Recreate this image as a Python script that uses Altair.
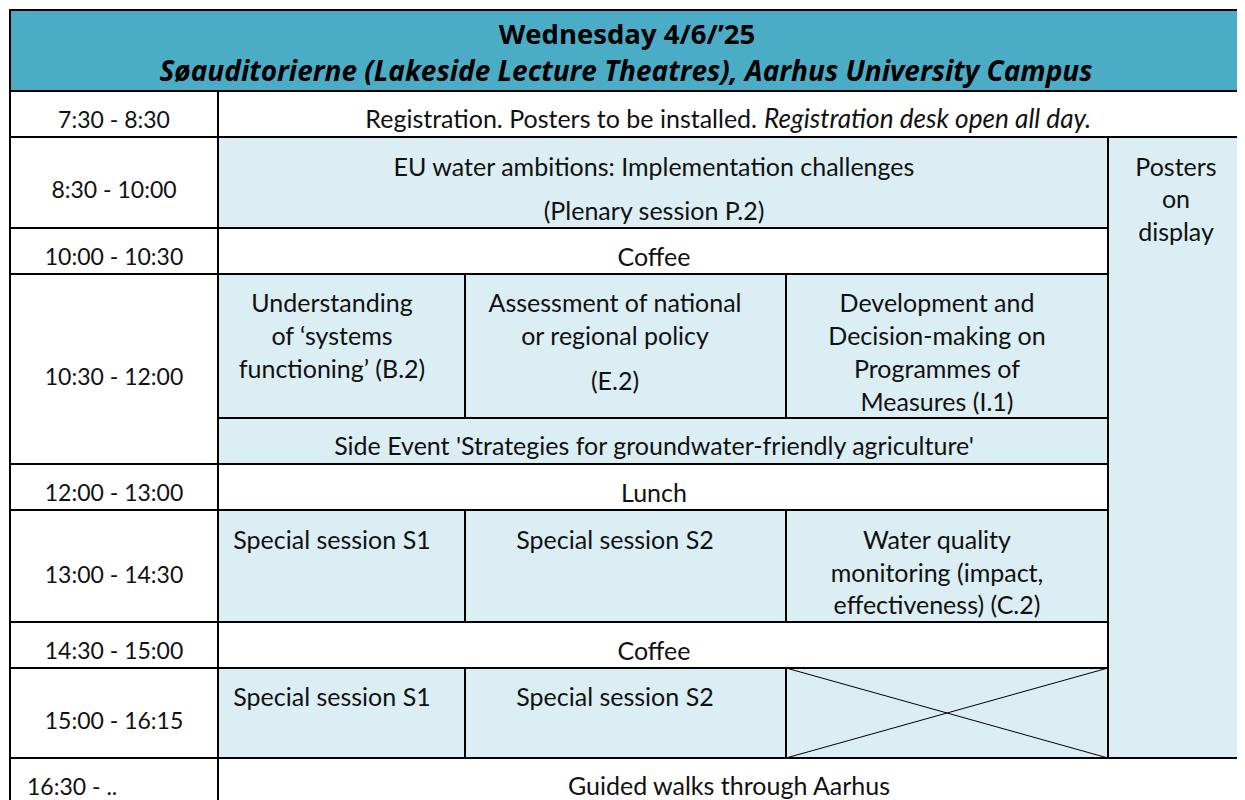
import altair as alt
import pandas as pd

# ---------------- content ----------------
title_day = "Wednesday 4/6/\u201925"
title_place = "S\u00f8auditorierne (Lakeside Lecture Theatres), Aarhus University Campus"

times = ["7:30 - 8:30", "8:30 - 10:00", "10:00 - 10:30", "10:30 - 12:00",
         "12:00 - 13:00", "13:00 - 14:30", "14:30 - 15:00", "15:00 - 16:15"]
last_time = "16:30 - .."

reg_plain = "Registration. Posters to be installed."
reg_italic = "Registration desk open all day."

eu_lines = ["EU water ambitions: Implementation challenges", "(Plenary session P.2)"]
poster_lines = ["Posters", "on", "display"]
coffee = "Coffee"
b2_lines = ["Understanding", "of \u2018systems", "functioning\u2019 (B.2)"]
e2_lines = ["Assessment of national", "or regional policy", "(E.2)"]
i1_lines = ["Development and", "Decision-making on", "Programmes of", "Measures  (I.1)"]
side_event = "Side Event 'Strategies for groundwater-friendly agriculture'"
lunch = "Lunch"
s1 = "Special session S1"
s2 = "Special session S2"
c2_lines = ["Water quality", "monitoring (impact,", "effectiveness) (C.2)"]
guided = "Guided walks through Aarhus"

# ---------------- layout (grid of the table) ----------------
XE = [10, 218, 465, 786, 1108, 1252]          # column edges
YE = [10, 91, 137, 228, 274, 418, 464, 510, 622, 668, 758, 812]  # row edges
HEAD = "#4BACC6"
LIGHT = "#DAEEF3"
WHITE = "#FFFFFF"

# cells: (col0, col1, row0, row1, fill)
cells = [
    (0, 5, 0, 1, HEAD),
    (0, 1, 1, 2, WHITE), (0, 1, 2, 3, WHITE), (0, 1, 3, 4, WHITE),
    (0, 1, 4, 6, WHITE), (0, 1, 6, 7, WHITE), (0, 1, 7, 8, WHITE),
    (0, 1, 8, 9, WHITE), (0, 1, 9, 10, WHITE), (0, 1, 10, 11, WHITE),
    (1, 5, 1, 2, WHITE),
    (1, 4, 2, 3, LIGHT),
    (4, 5, 2, 10, LIGHT),
    (1, 4, 3, 4, WHITE),
    (1, 2, 4, 5, LIGHT), (2, 3, 4, 5, LIGHT), (3, 4, 4, 5, LIGHT),
    (1, 4, 5, 6, LIGHT),
    (1, 4, 6, 7, WHITE),
    (1, 2, 7, 8, LIGHT), (2, 3, 7, 8, LIGHT), (3, 4, 7, 8, LIGHT),
    (1, 4, 8, 9, WHITE),
    (1, 2, 9, 10, LIGHT), (2, 3, 9, 10, LIGHT), (3, 4, 9, 10, LIGHT),
    (1, 5, 10, 11, WHITE),
]
rects = pd.DataFrame([
    {"x": XE[a], "x2": XE[b], "y": YE[c], "y2": YE[d], "fill": f}
    for a, b, c, d, f in cells
])

cross = pd.DataFrame([
    {"x": XE[3], "y": YE[9], "x2": XE[4], "y2": YE[10]},
    {"x": XE[3], "y": YE[10], "x2": XE[4], "y2": YE[9]},
])

# text anchors: centre x and baseline y of each line
time_x = 114
time_y = [128, 198, 265, 385, 501, 583, 659, 729]
mid_x = 654
col1_x, col2_x, col3_x, post_x = 332, 615, 937, 1176

body = []
for t, y in zip(eu_lines, [176, 220]):
    body.append((t, mid_x, y))
for t, y in zip(poster_lines, [176, 208, 241]):
    body.append((t, post_x, y))
body.append((coffee, mid_x, 266))
for t, y in zip(b2_lines, [312, 345, 378]):
    body.append((t, col1_x, y))
for t, y in zip(e2_lines, [312, 345, 390]):
    body.append((t, col2_x, y))
for t, y in zip(i1_lines, [312, 345, 378, 411]):
    body.append((t, col3_x, y))
body.append((side_event, mid_x, 455))
body.append((lunch, mid_x, 502))
body.append((s1, col1_x, 549))
body.append((s2, col2_x, 549))
for t, y in zip(c2_lines, [549, 582, 614]):
    body.append((t, col3_x, y))
body.append((coffee, mid_x, 660))
body.append((s1, col1_x, 706))
body.append((s2, col2_x, 706))
body.append((guided, 729, 795))
body_df = pd.DataFrame(body, columns=["text", "x", "y"])
time_df = pd.DataFrame({"text": times, "x": time_x, "y": time_y})

FONT = "Lato"
FS = 25
FS_T = 23
INK = "#111111"

xs = alt.Scale(domain=[8, 1237], range=[0, 1229])
ys = alt.Scale(domain=[8, 800], range=[0, 792])
X = lambda f: alt.X(f, type="quantitative", scale=xs, axis=None)
Y = lambda f: alt.Y(f, type="quantitative", scale=ys, axis=None)

cell_layer = alt.Chart(rects).mark_rect(stroke="black", strokeWidth=2, clip=True).encode(
    x=X("x"), x2="x2", y=Y("y"), y2="y2",
    fill=alt.Fill("fill:N", scale=None),
)

cross_layer = alt.Chart(cross).mark_rule(color="black", strokeWidth=1).encode(
    x=X("x"), x2="x2", y=Y("y"), y2="y2",
)

text_layer = alt.Chart(body_df).mark_text(
    font=FONT, fontSize=FS, align="center", baseline="alphabetic", color=INK, clip=True
).encode(x=X("x"), y=Y("y"), text="text:N")

time_layer = alt.Chart(time_df).mark_text(
    font=FONT, fontSize=FS_T, align="center", baseline="alphabetic", color=INK
).encode(x=X("x"), y=Y("y"), text="text:N")

reg_a = alt.Chart(pd.DataFrame([{"text": reg_plain, "x": 757, "y": 128}])).mark_text(
    font=FONT, fontSize=FS, align="right", baseline="alphabetic", color=INK
).encode(x=X("x"), y=Y("y"), text="text:N")

reg_b = alt.Chart(pd.DataFrame([{"text": reg_italic, "x": 764, "y": 128}])).mark_text(
    font=FONT, fontSize=26.2, fontStyle="italic", align="left", baseline="alphabetic", color=INK
).encode(x=X("x"), y=Y("y"), text="text:N")

last_t = alt.Chart(pd.DataFrame([{"text": last_time, "x": 27, "y": 795}])).mark_text(
    font=FONT, fontSize=FS_T, align="left", baseline="alphabetic", color=INK, clip=True
).encode(x=X("x"), y=Y("y"), text="text:N")

head1 = alt.Chart(pd.DataFrame([{"text": title_day, "x": 627, "y": 44}])).mark_text(
    font="Open Sans", fontSize=27.5, fontWeight="bold", align="center", baseline="alphabetic", color="#000000"
).encode(x=X("x"), y=Y("y"), text="text:N")

head2 = alt.Chart(pd.DataFrame([{"text": title_place, "x": 626, "y": 81}])).mark_text(
    font="Open Sans", fontSize=28, fontWeight="bold", fontStyle="italic", align="center",
    baseline="alphabetic", color="#000000"
).encode(x=X("x"), y=Y("y"), text="text:N")

chart = alt.layer(
    cell_layer, cross_layer, text_layer, time_layer, reg_a, reg_b, last_t, head1, head2
).properties(width=1229, height=792, padding=0).configure_view(stroke=None)

chart.save("out.html", embed_options={"renderer": "svg", "actions": False})
